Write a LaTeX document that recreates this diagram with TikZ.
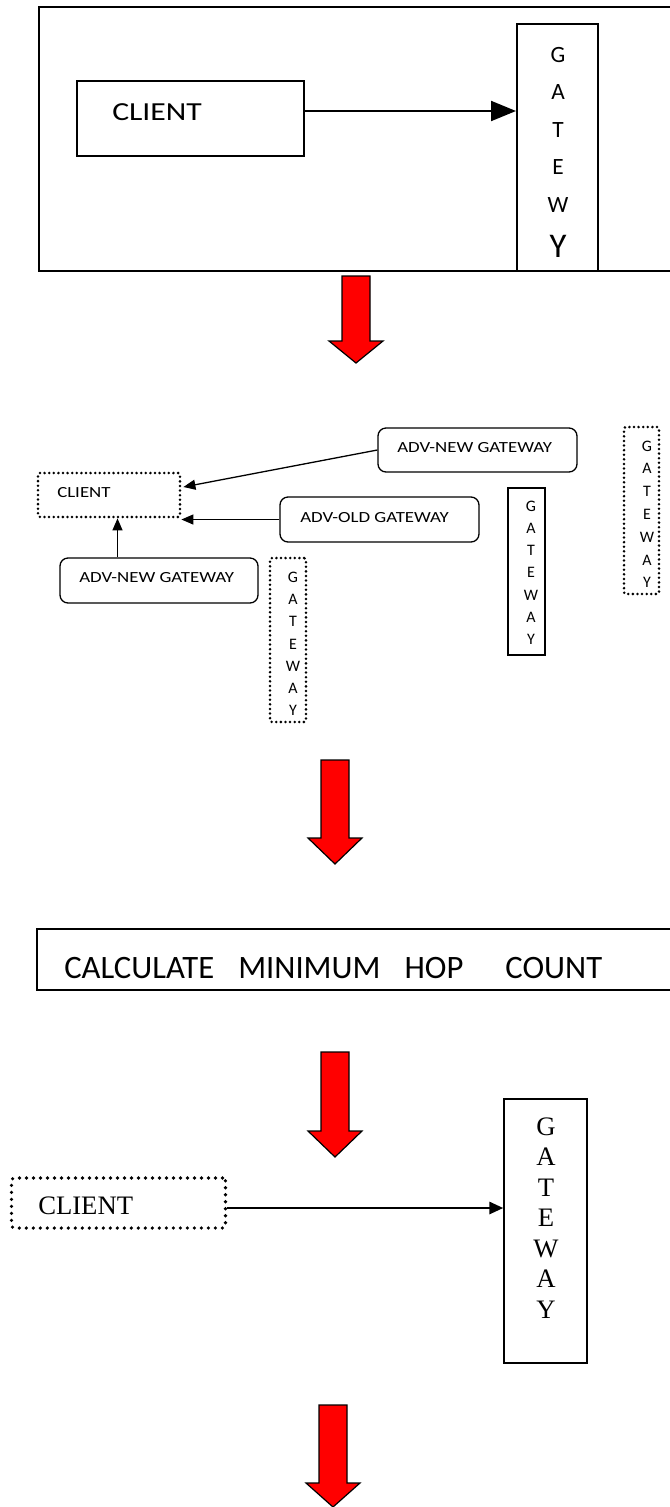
\documentclass[tikz,border=0pt]{standalone}
\usepackage{fontspec}
\setmainfont{Liberation Serif}
\newfontfamily\calibri{Carlito}
\newfontfamily\calibriwide[FakeStretch=1.22]{Carlito}
\usetikzlibrary{arrows.meta,calc}

\newdimen\px \px=0.75pt

% red block arrow: centre x, top y, head y, tip y
\newcommand{\redarrow}[4]{%
  \draw[redarr] (#1-14,#2) -- (#1+14,#2) -- (#1+14,#3) -- (#1+27,#3) -- (#1,#4) -- (#1-27,#3) -- (#1-14,#3) -- cycle;}

\tikzset{
  thickbox/.style={draw, line width=2\px, inner sep=0pt},
  thinbox/.style={draw, line width=1.3\px, inner sep=0pt},
  roundbox/.style={draw, line width=1.3\px, rounded corners=8\px, inner sep=0pt},
  dotbox/.style={draw, line width=2.8\px, line cap=round, dash pattern=on 0pt off 4.6\px, rounded corners=2\px, inner sep=0pt},
  bigdotbox/.style={draw, line width=3.6\px, line cap=round, dash pattern=on 0pt off 7\px, rounded corners=3\px, inner sep=0pt},
  redarr/.style={draw=black, fill=red, line width=1.2\px},
  lbl/.style={anchor=base west, inner sep=0pt},
  letter/.style={anchor=base, inner sep=0pt},
}

\begin{document}
\begin{tikzpicture}[x=0.75pt,y=0.75pt,yscale=-1,xscale=1]
\useasboundingbox (0,0) rectangle (670,1507);

%Outer frame
\node[thickbox, minimum width=661\px, minimum height=264\px] (frame1) at (369.5,139) {};
%Client
\node[thickbox, minimum width=227\px, minimum height=75\px] (client1) at (190.5,118.5) {};
\node[lbl, font=\calibriwide\fontsize{19.5}{20}\selectfont] (clientlbl1) at (112,120) {CLIENT};
%Gateway
\node[thickbox, minimum width=81\px, minimum height=247\px] (gateway1) at (557.5,147.5) {};
\foreach \l [count=\i] in {G,A,T,E,W}
  \node[letter, font=\calibri\fontsize{17.5}{18}\selectfont] (gwa\i) at (558,{62+37.5*(\i-1)}) {\l};
\node[letter, font=\calibri\fontsize{26}{27}\selectfont] (gwa6) at (558,257) {Y};
%Arrow
\coordinate (c1out) at ($(client1.east)+(0,-7.5)$);
\draw[line width=2\px, -{Triangle[length=18.75pt,width=15pt]}] (c1out) -- (c1out -| gateway1.west);

\redarrow{356}{276}{341}{363}

% Advertisements
\node[dotbox, minimum width=142\px, minimum height=44\px] (client2) at (109,495) {};
\node[lbl, font=\calibriwide\fontsize{11.6}{12}\selectfont] (clientlbl2) at (57,497) {CLIENT};
\node[roundbox, minimum width=199\px, minimum height=44\px] (advnew1) at (477.5,450) {};
\node[lbl, font=\calibriwide\fontsize{11.6}{12}\selectfont] (advnewlbl1) at (397,452) {ADV-NEW GATEWAY};
\node[roundbox, minimum width=199\px, minimum height=45\px] (advold) at (379.5,519.5) {};
\node[lbl, font=\calibriwide\fontsize{11.6}{12}\selectfont] (advoldlbl) at (300,522) {ADV-OLD GATEWAY};
\node[roundbox, minimum width=198\px, minimum height=45\px] (advnew2) at (159,580.5) {};
\node[lbl, font=\calibriwide\fontsize{11.6}{12}\selectfont] (advnewlbl2) at (79,582) {ADV-NEW GATEWAY};

\draw[line width=1.3\px, -{Triangle[length=9pt,width=7.5pt]}] (advnew1.west) -- ($(client2.east)+(2,-8)$);
\draw[line width=1.3\px, -{Triangle[length=9pt,width=7.5pt]}] (advold.west) -- (advold.west -| client2.east);
\coordinate (upfoot) at ($(advnew2.north)+(-41.5,0)$);
\draw[line width=1.3\px, -{Triangle[length=9pt,width=7.5pt]}] (upfoot) -- (upfoot |- client2.south);

%Gateways
\node[dotbox, minimum width=36\px, minimum height=164\px] (gateway2a) at (288,640) {};
\foreach \l [count=\i] in {G,A,T,E,W,A,Y}
  \node[letter, font=\calibri\fontsize{12}{12}\selectfont] (gwb\i) at (293,{582.5+22.2*(\i-1)}) {\l};
\node[thinbox, minimum width=37\px, minimum height=167\px] (gateway2b) at (526.5,571.5) {};
\foreach \l [count=\i] in {G,A,T,E,W,A,Y}
  \node[letter, font=\calibri\fontsize{12}{12}\selectfont] (gwc\i) at (531,{511+22.3*(\i-1)}) {\l};
\node[dotbox, minimum width=35\px, minimum height=167\px] (gateway2c) at (641.5,510.5) {};
\foreach \l [count=\i] in {G,A,T,E,W,A,Y}
  \node[letter, font=\calibri\fontsize{12}{12}\selectfont] (gwd\i) at (647,{451+22.8*(\i-1)}) {\l};

\redarrow{335}{760}{838}{864}

%Hop count
\node[thinbox, minimum width=663\px, minimum height=61\px] (calcbox) at (368.5,959.5) {};
\node[lbl, font=\calibri\fontsize{24.5}{25}\selectfont] (calclbl) at (64,978) {CALCULATE\hspace{24\px}MINIMUM\hspace{24\px}HOP\hspace{42\px}COUNT};

\redarrow{335}{1052}{1131}{1157}

%Selected gateway
\node[bigdotbox, minimum width=214\px, minimum height=50\px] (client4) at (118.5,1203) {};
\node[lbl, font=\fontsize{20}{21}\selectfont] (clientlbl4) at (38,1214) {CLIENT};
\node[thinbox, minimum width=83\px, minimum height=264\px] (gateway4) at (545.5,1231) {};
\foreach \l [count=\i] in {G,A,T,E,W,A,Y}
  \node[letter, font=\fontsize{20}{21}\selectfont] (gwe\i) at (546,{1135+30.5*(\i-1)}) {\l};
\coordinate (c4out) at ($(client4.east)+(0,5)$);
\draw[line width=2.8\px, -{Triangle[length=10.5pt,width=9pt]}] (c4out) -- (c4out -| gateway4.west);

\redarrow{333}{1405}{1483}{1507}

\end{tikzpicture}
\end{document}
